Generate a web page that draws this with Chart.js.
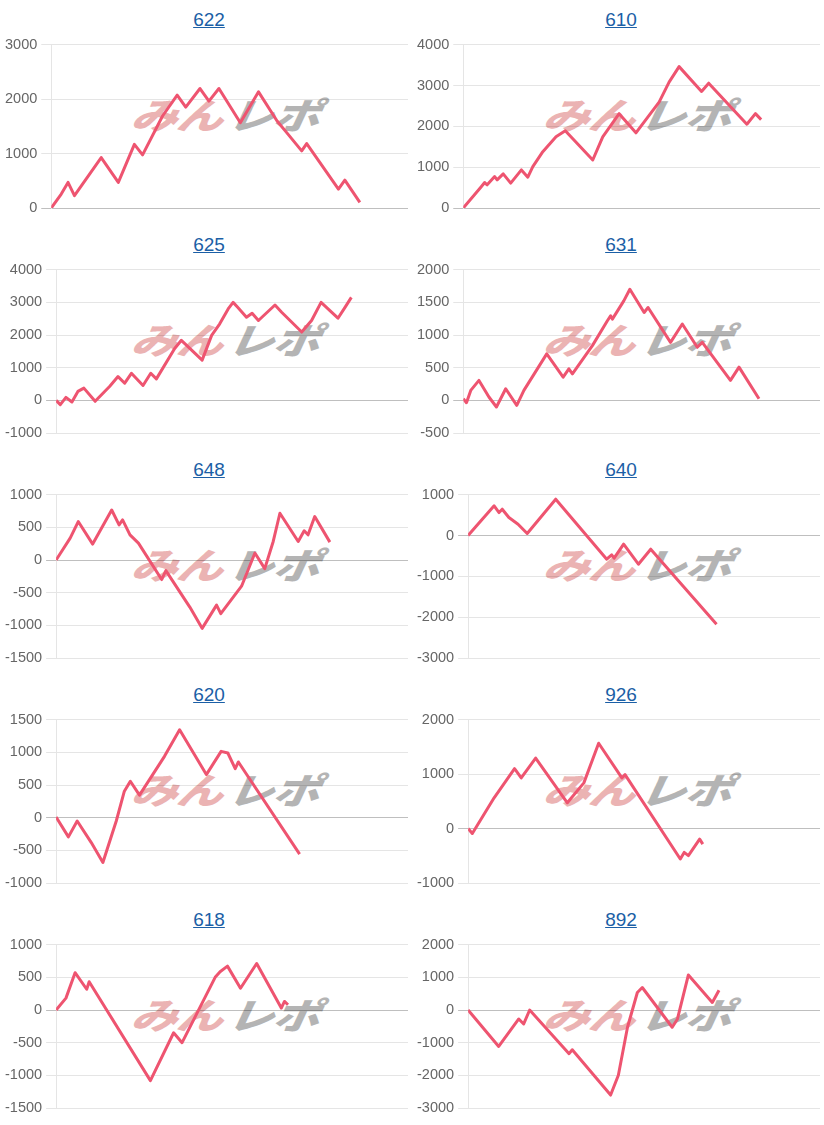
<!DOCTYPE html>
<html lang="ja">
<head>
<meta charset="utf-8">
<title>Slump graphs</title>
<script src="https://cdn.jsdelivr.net/npm/chart.js@4/dist/chart.umd.min.js"></script>
<style>
    body { margin: 0; background: #fff; }
    #grid {
        display: grid;
        grid-template-columns: 412px 412px;
        width: 824px;
    }
    .cell {
        position: relative;
        height: 225px;
    }
    .ttl {
        position: absolute;
        top: 9px;
        left: 6px;
        right: 0;
        text-align: center;
        font: 19px/22px Arial, "Liberation Sans", sans-serif;
        color: #1b5fa6;
        text-decoration: underline;
    }
    .wm {
        position: absolute;
        left: 132px;
        top: 93px;
        white-space: nowrap;
        font: italic 900 36px/40px "Noto Sans CJK JP", sans-serif;
        transform: skewX(-8deg) scaleX(1.3);
        transform-origin: left center;
        letter-spacing: -1px;
    }
    .wm .p { color: #ebb3b3; }
    .wm .g { color: #b4b4b4; margin-left: 4px; }
    .cell canvas {
        position: absolute;
        top: 32px;
        left: 0;
    }
</style>
</head>
<body>
<div id="grid"></div>

<script>
// ===================================
// slump data (x = position along the play range 0-100, y = difference)
// ===================================
const titles = ['622', '610', '625', '631', '648', '640', '620', '926', '618', '892'];

const yMin  = [0,    0,    -1000, -500, -1500, -3000, -1000, -1000, -1500, -3000];
const yMax  = [3000, 4000, 4000,  2000, 1000,  1000,  1500,  2000,  1000,  2000];
const yStep = [1000, 1000, 1000,  500,  500,   1000,  500,   1000,  500,   1000];

const x622 = [0, 2.8, 4.7, 6.5, 14.0, 18.8, 23.3, 25.6, 31.2, 35.3, 37.7, 41.7, 44.2, 47.0, 53.0, 58.1, 63.3, 66.0, 70.2, 71.6, 80.5, 82.3, 86.5];
const y622 = [0, 256, 470, 226, 927, 470, 1170, 976, 1690, 2073, 1854, 2195, 1963, 2195, 1567, 2134, 1598, 1384, 1049, 1183, 348, 512, 104];

const x610 = [0, 5.1, 6.0, 6.7, 8.8, 9.5, 11.2, 13.3, 16.3, 18.1, 19.5, 22.3, 26.0, 28.6, 36.3, 39.1, 43.7, 48.4, 54.9, 57.7, 60.5, 66.8, 68.8, 79.5, 81.9, 83.5];
const y610 = [0, 527, 624, 568, 770, 689, 835, 608, 933, 754, 1014, 1379, 1744, 1890, 1176, 1744, 2311, 1841, 2595, 3082, 3463, 2855, 3058, 2052, 2311, 2165];

const x625 = [0, 1.2, 2.8, 4.5, 6.2, 7.9, 11.1, 15.2, 17.6, 19.5, 21.4, 24.7, 26.9, 28.5, 33.7, 35.6, 41.5, 44.2, 46.5, 48.9, 50.3, 51.6, 54.1, 55.7, 57.5, 62.2, 64.1, 69.8, 72.6, 75.3, 80.1, 82.1, 83.9];
const y625 = [0, -131, 91, -51, 273, 374, -30, 424, 727, 525, 828, 455, 828, 657, 1586, 1838, 1232, 1990, 2343, 2798, 3000, 2848, 2545, 2667, 2444, 2919, 2697, 2091, 2444, 3000, 2515, 2848, 3152];

const x631 = [0, 0.9, 2.1, 4.4, 7.2, 9.3, 11.9, 15.0, 17.0, 23.4, 28.0, 29.6, 30.6, 36.2, 40.4, 41.3, 41.8, 45.0, 46.7, 50.7, 51.8, 58.1, 61.4, 65.6, 67.0, 74.9, 77.3, 82.9];
const y631 = [25, -36, 152, 305, 51, -102, 178, -76, 152, 711, 355, 482, 406, 838, 1218, 1294, 1244, 1523, 1701, 1345, 1421, 888, 1168, 812, 888, 305, 508, 25];

const x648 = [0, 4.0, 6.3, 10.4, 15.8, 17.9, 18.9, 21.0, 23.4, 30.0, 31.2, 38.0, 41.5, 45.6, 46.8, 52.7, 56.5, 59.3, 61.7, 63.6, 68.8, 70.5, 71.6, 73.5, 77.8];
const y648 = [0, 335, 589, 244, 766, 538, 614, 386, 259, -299, -162, -721, -1046, -690, -822, -401, 107, -132, 284, 716, 284, 447, 386, 665, 274];

const x640 = [0, 7.4, 8.8, 9.7, 11.6, 14.2, 16.8, 24.9, 39.4, 40.8, 41.5, 44.2, 48.4, 51.9, 70.6];
const y640 = [0, 727, 563, 645, 441, 278, 49, 890, -580, -473, -555, -212, -702, -335, -2171];

const x620 = [0, 3.5, 6.0, 10.0, 13.3, 17.1, 19.4, 21.1, 23.7, 30.8, 35.1, 42.7, 46.9, 48.8, 50.9, 51.8, 69.2];
const y620 = [10, -294, -51, -381, -685, -51, 406, 558, 345, 939, 1345, 660, 1015, 990, 751, 853, -558];

const x926 = [0, 1.2, 7.4, 13.2, 15.1, 19.2, 28.2, 32.9, 37.1, 43.7, 44.6, 60.3, 61.4, 62.6, 65.8, 66.7];
const y926 = [0, -91, 565, 1100, 930, 1295, 474, 839, 1568, 930, 991, -559, -438, -498, -195, -286];

const x618 = [0, 2.8, 5.4, 8.7, 9.4, 26.8, 33.4, 35.8, 45.2, 46.6, 48.7, 52.4, 57.0, 64.0, 64.9, 65.9];
const y618 = [0, 182, 571, 318, 434, -1081, -348, -500, 500, 586, 672, 333, 712, 30, 131, 81];

const x892 = [0, 8.7, 14.4, 15.8, 17.5, 28.7, 29.6, 40.5, 42.7, 45.3, 48.1, 49.5, 58.0, 59.5, 62.6, 69.4, 71.3];
const y892 = [0, -1115, -274, -426, 0, -1337, -1216, -2604, -1996, -527, 537, 689, -527, -274, 1074, 233, 608];

const xs = [x622, x610, x625, x631, x648, x640, x620, x926, x618, x892];
const ys = [y622, y610, y625, y631, y648, y640, y620, y926, y618, y892];

const lineColor = 'rgb(238, 84, 112)';

// ===================================
// build cells
// ===================================
function buildCell(i) {
    const cell = document.createElement('div');
    cell.className = 'cell';
    cell.innerHTML = `
        <a class="ttl" href="#">${titles[i]}</a>
        <div class="wm"><span class="p">みん</span><span class="g">レポ</span></div>
        <canvas width="412" height="193"></canvas>
    `;
    document.getElementById('grid').appendChild(cell);
    return cell.querySelector('canvas');
}

function initChart(i) {
    const ctx = buildCell(i);
    const points = xs[i].map((x, k) => ({ x: x, y: ys[i][k] }));

    new Chart(ctx, {
        type: 'line',
        data: {
            datasets: [{
                data: points,
                borderColor: lineColor,
                borderWidth: 3,
                borderJoinStyle: 'round',
                pointRadius: 0,
                tension: 0,
                fill: false
            }]
        },
        options: {
            responsive: false,
            animation: false,
            devicePixelRatio: 1,
            layout: {
                padding: { left: 1, right: 4, top: 3, bottom: 17 }
            },
            plugins: {
                legend: { display: false },
                tooltip: { enabled: false }
            },
            scales: {
                x: {
                    type: 'linear',
                    min: 0,
                    max: 100,
                    display: false
                },
                y: {
                    min: yMin[i],
                    max: yMax[i],
                    ticks: {
                        stepSize: yStep[i],
                        color: '#666',
                        padding: 4,
                        font: { size: 14.5, family: 'Arial, "Liberation Sans", sans-serif' },
                        callback: function(value) {
                            return String(value);
                        }
                    },
                    grid: {
                        tickLength: 10,
                        color: function(c) {
                            return c.tick && c.tick.value === 0 ? 'rgba(0,0,0,0.25)' : 'rgba(0,0,0,0.1)';
                        }
                    },
                    border: { color: 'rgba(0,0,0,0.1)' }
                }
            }
        }
    });
}

titles.forEach((t, i) => initChart(i));
</script>
</body>
</html>
